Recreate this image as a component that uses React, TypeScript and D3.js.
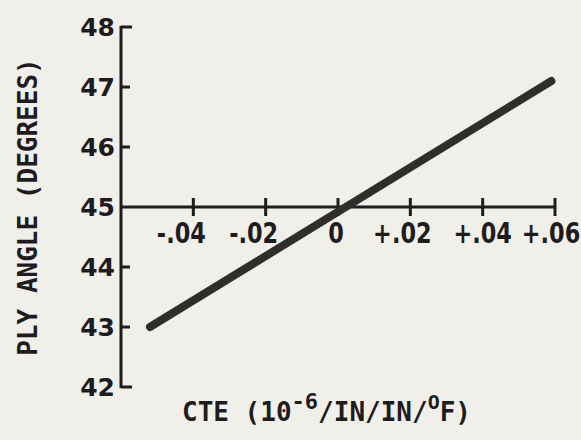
import React from "react";
import * as d3 from "d3";

const yTicks = [42, 43, 44, 45, 46, 47, 48];
const xTicks = [-0.04, -0.02, 0, 0.02, 0.04, 0.06];
const xTickLabels = ["-.04", "-.02", "0", "+.02", "+.04", "+.06"];
const cteValues = [-0.052, 0.059];
const plyAngles = [43.0, 47.1];

const W = 581;
const H = 440;
const BG = "#f1efea";
const INK = "#1e1c1c";

export default function App() {
  const x = d3.scaleLinear().domain([-0.06, 0.06]).range([121, 555]);
  const y = d3.scaleLinear().domain([42, 48]).range([387, 27]);
  const pts: [number, number][] = cteValues.map((v, i) => [v, plyAngles[i]]);
  const line = d3
    .line<[number, number]>()
    .x((d) => x(d[0]))
    .y((d) => y(d[1]));
  const y45 = y(45);
  const labelShift = (t: number) =>
    t < 0 ? -12 : t === 0 ? -2 : t === 0.02 ? -8 : t === 0.06 ? -4 : 0;
  return (
    <svg
      width={W}
      height={H}
      style={{ position: "absolute", left: 0, top: 0, background: BG }}
    >
      <rect x={0} y={0} width={W} height={H} fill={BG} />
      {/* y axis */}
      <line x1={x(-0.06)} x2={x(-0.06)} y1={y(48) - 1} y2={y(42) + 1} stroke={INK} strokeWidth={3} />
      {yTicks.map((t) => (
        <g key={t}>
          {t !== 45 && (
            <line x1={x(-0.06)} x2={x(-0.06) + (t === 48 || t === 42 ? 11 : 9)} y1={y(t)} y2={y(t)} stroke={INK} strokeWidth={3} />
          )}
          <text
            x={115}
            y={y(t)}
            dy="0.36em"
            textAnchor="end"
            fontFamily="DejaVu Sans"
            fontWeight="bold"
            fontSize={25}
            fill={INK}
          >
            {t}
          </text>
        </g>
      ))}
      {/* x axis at 45 */}
      <line x1={x(-0.06)} x2={x(0.06)} y1={y45} y2={y45} stroke={INK} strokeWidth={3} />
      {xTicks.map((t, i) => (
        <g key={t}>
          <line x1={x(t)} x2={x(t)} y1={y45 - 9} y2={y45 + 9} stroke={INK} strokeWidth={3} />
          <g transform={`translate(${x(t) + labelShift(t)}, ${y45 + 36}) scale(0.8, 1)`}>
            <text
              x={0}
              y={0}
              textAnchor="middle"
              fontFamily="DejaVu Sans"
              fontWeight={600}
              fontSize={28}
              fill={INK}
            >
              {xTickLabels[i]}
            </text>
          </g>
        </g>
      ))}
      {/* data line */}
      <path d={line(pts) || ""} fill="none" stroke="#302d2d" strokeWidth={8} strokeLinecap="round" />
      {/* axis titles */}
      <text
        transform={`translate(37, ${y(45)}) rotate(-90)`}
        textAnchor="middle"
        fontFamily="DejaVu Sans Mono"
        fontWeight="bold"
        fontSize={26}
        fill={INK}
      >
        PLY ANGLE (DEGREES)
      </text>
      <text
        x={182}
        y={421}
        fontFamily="DejaVu Sans Mono"
        fontWeight="bold"
        fontSize={26}
        fill={INK}
      >
        CTE (10
        <tspan dy={-12} fontSize={22}>-6</tspan>
        <tspan dy={12}>/IN/IN/</tspan>
        <tspan dy={-12} fontSize={20}>O</tspan>
        <tspan dy={12}>F)</tspan>
      </text>
    </svg>
  );
}
